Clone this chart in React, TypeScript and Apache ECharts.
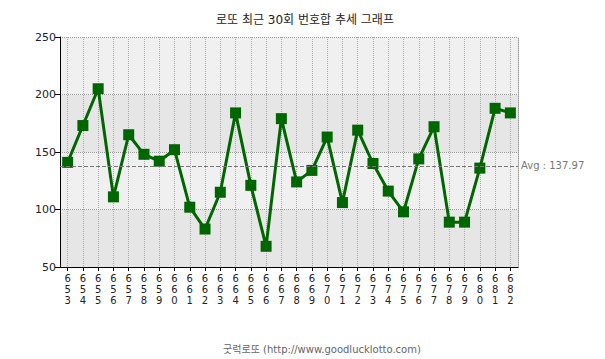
import React, { useEffect, useRef } from "react";
import * as echarts from "echarts";

const draws: string[] = [
  "653", "654", "655", "656", "657", "658", "659", "660", "661", "662",
  "663", "664", "665", "666", "667", "668", "669", "670", "671", "672",
  "673", "674", "675", "676", "677", "678", "679", "680", "681", "682",
];
const sums: number[] = [
  141, 173, 205, 111, 165, 148, 142, 152, 102, 83,
  115, 184, 121, 68, 179, 124, 134, 163, 106, 169,
  140, 116, 98, 144, 172, 89, 89, 136, 188, 184,
];
const avgValue = 137.97;
const yTicks = { min: 50, max: 250, interval: 50 };
const titleText = "로또 최근 30회 번호합 추세 그래프";
const footerText = "굿럭로또 (http://www.goodlucklotto.com)";

const FONT = '"DejaVu Sans", "Noto Sans CJK KR", sans-serif';

export default function App() {
  const ref = useRef<HTMLDivElement>(null);
  useEffect(() => {
    document.body.style.margin = "0";
    if (!ref.current) return;
    const chart = echarts.init(ref.current, undefined, { renderer: "svg" });
    chart.setOption({
      animation: false,
      backgroundColor: "#ffffff",
      title: [
        {
          text: titleText,
          left: 300,
          top: 9,
          textAlign: "center",
          textStyle: { fontSize: 12, fontWeight: "normal", color: "#222", fontFamily: FONT },
        },
        {
          text: footerText,
          left: 317,
          top: 339,
          textAlign: "center",
          textStyle: { fontSize: 10, fontWeight: "normal", color: "#666", fontFamily: FONT },
        },
      ],
      grid: { left: 60, right: 87, top: 37, bottom: 92, containLabel: false },
      xAxis: {
        type: "category",
        data: draws,
        boundaryGap: true,
        axisLine: { show: true, lineStyle: { color: "#000", width: 1 } },
        axisTick: { show: true, alignWithLabel: true, length: 4, lineStyle: { color: "#000" } },
        axisLabel: {
          interval: 0,
          fontSize: 10,
          lineHeight: 11,
          color: "#222",
          fontFamily: FONT,
          margin: 6,
          formatter: (v: string) => v.split("").join("\n"),
        },
        splitLine: {
          show: true,
          alignWithLabel: true,
          interval: 0,
          lineStyle: { color: "#aaa", type: "dotted", width: 1 },
        },
      },
      yAxis: [
        {
          type: "value",
          min: yTicks.min,
          max: yTicks.max,
          interval: yTicks.interval,
          axisLine: { show: true, lineStyle: { color: "#000", width: 1 } },
          axisTick: { show: true, length: 5, lineStyle: { color: "#000" } },
          axisLabel: { fontSize: 11, color: "#222", fontFamily: FONT, margin: 4 },
          splitLine: { show: true, lineStyle: { color: "#999", type: "dotted", width: 1 } },
          splitArea: { show: true, areaStyle: { color: ["#e6e6e6", "#f0f0f0"] } },
        },
        {
          type: "value",
          position: "right",
          min: yTicks.min,
          max: yTicks.max,
          interval: yTicks.interval,
          axisLine: { show: true, lineStyle: { color: "#999", type: "dotted", width: 1 } },
          axisTick: { show: false },
          axisLabel: { show: false },
          splitLine: { show: false },
        },
      ],
      series: [
        {
          type: "line",
          data: [],
          z: 2,
          silent: true,
          markLine: {
            silent: true,
            symbol: "none",
            animation: false,
            label: {
              show: true,
              position: "end",
              formatter: () => "Avg : " + avgValue.toFixed(2),
              color: "#777",
              fontSize: 10,
              fontFamily: FONT,
              distance: 3,
            },
            lineStyle: { color: "#777", type: "dashed", width: 1 },
            data: [{ yAxis: avgValue }],
          },
        },
        {
          type: "line",
          data: sums,
          z: 3,
          symbol: "rect",
          symbolSize: 11,
          lineStyle: { color: "#006600", width: 3 },
          itemStyle: { color: "#006600" },
        },
      ],
    });
    return () => chart.dispose();
  }, []);
  return <div ref={ref} style={{ width: 605, height: 359 }} />;
}
